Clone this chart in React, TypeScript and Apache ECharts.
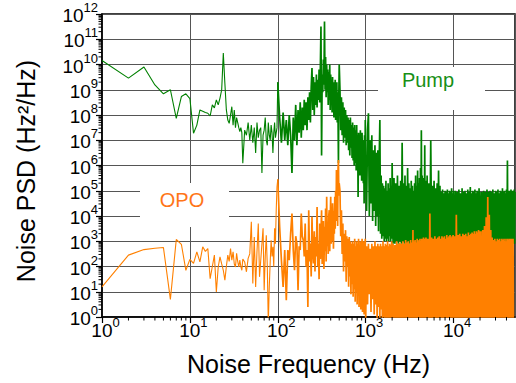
import React, { useEffect, useRef } from 'react';
import * as echarts from 'echarts';

// Frequency bins (Hz) per segment
const freqA = [1,2,3,4,5,6,7,8,9,10,11,12,13,14,15,16,17,18,19,20,21,22,23,24,25,26,27,28,29,30,31,32,33,34,35,36,37,38,39,40];
const freqB = [42,44,46,48,50,52,54,56,58,60,62,64,66,68,70,72,74,76,78,80,82,84,86,88,90,92,94,96,98,100];
const freqC = [105,110,115,120,125,130,135,140,145,150,155,160,165,170,175,180,185,190,195,200];
const freqD = [205,210,215,220,225,230,235,240,245,250,255,260,265,270,275,280,285,290,295,300,305,310,315,320,325,330,335,340,345,350,355,360,365,370,375,380,385,390,395,400,405,410,415,420,425,430,435,440,445,450,455,460,465,470,475,480,485,490,495,500];
const freqE = [510,520,530,540,550,560,570,580,590,600,610,620,630,640,650,660,670,680,690,700,710,720,730,740,750,760,770,780,790,800,810,820,830,840,850,860,870,880,890,900,910,920,930,940,950,960,970,980,990,1000];
const freqF = [1025,1050,1075,1100,1125,1150,1175,1200,1225,1250,1275,1300,1325,1350,1375,1400,1425,1450,1475,1500,1525,1550,1575,1600,1625,1650,1675,1700,1725,1750,1775,1800,1825,1850,1875,1900,1925,1950,1975,2000];
const freqG = [2050,2100,2150,2200,2250,2300,2350,2400,2450,2500,2550,2600,2650,2700,2750,2800,2850,2900,2950,3000,3050,3100,3150,3200,3250,3300,3350,3400,3450,3500,3550,3600,3650,3700,3750,3800,3850,3900,3950,4000,4050,4100,4150,4200,4250,4300,4350,4400,4450,4500,4550,4600,4650,4700,4750,4800,4850,4900,4950,5000];
const freqH = [5125,5250,5375,5500,5625,5750,5875,6000,6125,6250,6375,6500,6625,6750,6875,7000,7125,7250,7375,7500,7625,7750,7875,8000,8125,8250,8375,8500,8625,8750,8875,9000,9125,9250,9375,9500,9625,9750,9875,10000];
const freqI = [10250,10500,10750,11000,11250,11500,11750,12000,12250,12500,12750,13000,13250,13500,13750,14000,14250,14500,14750,15000,15250,15500,15750,16000,16250,16500,16750,17000,17250,17500,17750,18000,18250,18500,18750,19000,19250,19500,19750,20000];
const freqJ = [20500,21000,21500,22000,22500,23000,23500,24000,24500,25000,25500,26000,26500,27000,27500,28000,28500,29000,29500,30000,30500,31000,31500,32000,32500,33000,33500,34000,34500,35000,35500,36000,36500,37000,37500,38000,38500,39000,39500,40000,40500,41000,41500,42000,42500,43000,43500,44000,44500,45000,45500,46000,46500,47000,47500,48000,48500,49000,49500,50000];

// Pump noise PSD, log10(Hz^2/Hz)
const pumpA = [10.16,9.46,9.9,9.19,8.84,9.0,7.87,8.73,8.84,8.65,7.28,7.6,8.2,8.15,8.1,8.07,7.96,8.4,8.28,8.6,8.4,8.67,9.0,10.45,9.26,8.2,7.8,7.67,8.0,8.33,7.6,8.2,7.5,7.9,7.7,7.5,7.34,7.5,7.3,6.09];
const pumpB = [7.4,7.2,7.7,7.0,7.6,6.9,7.5,6.5,7.7,7.1,7.4,7.5,5.7,7.2,7.4,7.9,7.0,6.8,7.7,7.2,7.0,7.6,7.3,6.5,7.3,7.7,7.1,7.3,7.5,9.3];
const pumpC = [7.9,6.9,8.1,7.0,7.8,6.8,8.0,7.2,5.7,7.9,7.0,8.4,6.8,8.2,7.3,8.5,7.1,8.3,7.4,8.6];
const pumpD = [7.6,8.5,7.4,8.7,7.8,8.9,7.7,9.1,9.86,8.2,9.5,8.0,9.3,8.4,9.6,8.3,9.4,8.6,9.8,8.5,9.9,11.5,6.4,9.6,8.9,10.2,9.2,11.7,9.0,10.3,8.7,10.0,8.9,9.8,8.4,9.7,8.6,10.0,8.2,9.6,8.5,9.4,8.1,9.5,8.3,9.3,7.9,9.2,8.2,9.4,7.8,9.1,8.0,9.3,7.7,8.9,7.9,6.1,8.8,10.0];
const pumpE = [9.0,7.4,8.7,7.2,8.5,6.9,8.3,7.1,8.2,6.8,8.0,6.9,7.9,6.6,7.8,6.4,7.9,6.7,7.6,6.3,7.7,6.2,7.5,6.0,7.6,6.1,7.4,5.8,7.6,6.0,7.2,4.75,7.3,5.9,7.1,5.6,7.4,5.7,7.0,5.4,7.3,5.5,7.0,5.3,6.9,4.5,7.2,5.4,7.8,5.6];
const pumpF = [4.2,7.4,8.07,4.0,7.0,4.5,7.2,3.8,6.6,4.2,6.8,3.6,6.5,4.0,6.6,3.4,6.2,7.8,3.3,5.6,3.1,5.3,3.2,5.2,3.0,5.1,3.1,5.4,3.0,5.0,3.1,5.3,3.0,5.1,3.2,5.5,3.0,5.2,3.1,6.1];
const pumpG = [2.9,5.5,2.9,5.3,3.0,5.6,2.9,5.2,3.0,5.4,2.9,6.9,3.0,5.3,2.9,5.6,3.0,5.2,2.9,5.9,3.0,5.3,2.9,5.1,3.0,5.4,2.9,5.2,3.0,5.0,2.9,5.3,3.0,5.6,2.9,5.2,3.0,5.8,2.9,5.3,3.0,5.5,2.9,5.9,3.0,7.4,2.9,5.6,3.0,5.3,2.9,5.5,3.0,6.8,2.9,5.4,3.0,5.2,2.9,5.6];
const pumpH = [2.9,5.3,2.9,7.0,3.0,5.2,2.9,5.4,3.0,5.1,2.9,5.3,3.0,5.8,2.9,5.2,3.0,4.95,2.9,5.05,3.0,4.9,2.9,5.0,3.0,4.95,2.9,5.05,3.0,4.9,2.9,5.0,3.0,4.95,2.9,5.1,3.0,4.9,2.9,5.0];
const pumpI = [3.0,5.0,3.1,4.95,3.0,5.05,3.1,4.9,3.0,5.1,3.1,4.95,3.0,5.0,3.1,4.9,3.0,5.05,3.1,4.95,3.0,5.15,3.1,4.9,3.0,5.0,3.1,4.95,3.0,5.05,3.1,4.9,3.0,5.0,3.1,4.95,3.0,5.1,3.1,4.95];
const pumpJ = [3.1,4.95,3.1,5.0,3.2,4.95,3.3,5.05,3.4,4.95,3.2,5.0,3.0,4.95,2.9,5.05,2.9,4.9,2.9,5.0,2.9,4.95,2.9,5.05,2.9,4.9,2.9,5.0,2.9,4.95,2.9,5.1,2.9,4.95,2.9,5.0,2.9,4.9,2.9,5.05,2.9,6.2,2.9,4.95,2.9,5.0,2.9,4.9,2.9,5.05,2.9,4.95,2.9,5.0,2.9,4.95,2.9,5.05,2.9,4.95];

// OPO noise PSD, log10(Hz^2/Hz)
const opoA = [1.19,2.45,2.67,2.72,2.75,0.7,3.07,2.88,1.85,2.28,2.12,2.58,2.18,2.78,2.6,2.71,1.52,2.0,2.45,0.99,1.98,2.38,2.1,1.85,1.46,2.0,2.45,2.2,2.71,2.25,2.58,2.1,1.98,2.52,2.2,1.98,2.25,2.0,1.85,2.3];
const opoB = [2.18,1.79,2.32,2.5,3.77,1.33,3.17,1.19,2.6,3.7,1.59,2.25,2.9,3.51,1.06,2.4,3.24,2.0,-0.3,1.19,2.2,3.04,2.4,2.78,2.0,3.51,2.9,4.23,5.16,5.45];
const opoC = [3.57,2.25,1.19,2.65,0.66,2.65,2.25,3.3,4.1,2.65,1.85,3.2,2.91,1.06,2.8,2.65,4.1,3.2,3.04,2.4];
const opoD = [3.7,2.0,2.65,0.4,4.23,2.2,2.91,1.6,3.97,2.5,2.12,3.4,1.8,3.17,2.4,4.36,2.0,2.91,1.5,3.7,2.3,3.3,4.23,2.1,2.65,3.8,1.9,3.57,2.6,4.3,2.2,4.76,2.8,3.57,2.5,4.0,4.23,2.6,3.8,4.76,2.9,4.1,3.0,4.5,3.97,2.7,4.2,3.3,4.76,3.5,5.0,3.8,5.82,4.2,5.5,3.6,5.9,6.22,4.8,5.29];
const opoE = [5.0,3.2,4.23,2.5,3.7,1.8,3.3,2.2,3.44,1.4,3.2,2.0,3.1,1.2,3.17,1.6,3.0,0.9,2.9,1.3,3.0,0.8,2.9,1.1,3.1,0.6,2.8,1.0,3.0,0.5,2.9,0.9,3.1,0.4,2.8,0.7,3.0,0.3,2.9,0.6,3.1,0.2,2.8,0.5,3.0,0.1,2.9,0.4,3.1,-0.2];
const opoF = [2.8,0.5,2.9,0.9,2.7,0.2,2.9,0.7,2.8,0.1,3.0,0.5,2.8,-0.1,2.9,0.4,2.8,-0.2,2.9,0.3,2.8,-0.3,3.0,0.0,2.8,-0.3,2.9,-0.1,2.85,-0.3,3.0,-0.2,2.8,-0.3,2.9,-0.2,2.85,-0.3,3.0,-0.2];
const opoG = [2.9,-0.3,2.85,-0.2,3.0,-0.3,2.9,-0.2,2.95,-0.3,2.9,-0.2,3.0,-0.3,2.9,-0.2,3.05,-0.3,2.95,-0.2,3.0,-0.3,2.9,-0.2,3.05,-0.3,2.95,-0.2,3.45,-0.3,3.0,-0.2,3.05,-0.3,2.95,-0.2,3.1,-0.3,3.0,-0.2,3.05,-0.3,3.1,-0.2,3.0,-0.3,3.1,-0.2,3.05,-0.3,3.15,-0.2,3.1,-0.3,3.0,-0.2,3.15,-0.3,3.1,-0.2];
const opoH = [3.1,-0.3,4.1,-0.2,3.15,-0.3,3.1,-0.2,3.2,-0.3,3.1,-0.2,3.15,-0.3,3.2,-0.2,3.1,-0.3,3.2,-0.2,3.15,-0.3,3.2,-0.2,3.1,-0.3,3.25,-0.2,3.15,-0.3,3.2,-0.2,3.25,-0.3,3.15,-0.2,3.2,-0.3,3.25,-0.2];
const opoI = [3.2,-0.3,4.05,-0.2,3.25,-0.3,3.3,-0.2,3.2,-0.3,3.3,-0.2,3.25,-0.3,3.3,-0.2,3.2,-0.3,3.35,-0.2,3.25,-0.3,3.3,-0.2,3.35,-0.3,3.3,-0.2,3.4,-0.3,3.3,-0.2,3.4,-0.3,3.35,-0.2,3.45,-0.3,3.4,-0.2];
const opoJ = [3.4,-0.3,3.45,-0.2,3.6,-0.3,3.95,-0.2,4.75,-0.3,4.05,-0.2,3.45,-0.3,3.15,-0.2,3.05,-0.3,3.1,-0.2,3.0,-0.3,3.1,-0.2,3.05,-0.3,3.1,-0.2,3.0,-0.3,3.1,-0.2,3.05,-0.3,3.1,-0.2,3.0,-0.3,3.1,-0.2,3.0,-0.3,3.1,-0.2,3.05,-0.3,3.1,-0.2,3.0,-0.3,3.1,-0.2,3.05,-0.3,3.1,-0.2];

// Axis ticks (decades) and log minor multipliers
const xDecades = [0, 1, 2, 3, 4];
const yDecades = [0, 1, 2, 3, 4, 5, 6, 7, 8, 9, 10, 11, 12];
const minorMultipliers = [2, 3, 4, 5, 6, 7, 8, 9];
const X_MAX_HZ = 50000;
const DENSE_FROM_HZ = 100;

const freqSegs = [freqA, freqB, freqC, freqD, freqE, freqF, freqG, freqH, freqI, freqJ];
const pumpSegs = [pumpA, pumpB, pumpC, pumpD, pumpE, pumpF, pumpG, pumpH, pumpI, pumpJ];
const opoSegs = [opoA, opoB, opoC, opoD, opoE, opoF, opoG, opoH, opoI, opoJ];

function build(vals: number[][], fLo: number, fHi: number): number[][] {
  const out: number[][] = [];
  freqSegs.forEach((fs, s) => {
    const v = vals[s];
    const n = Math.min(fs.length, v.length);
    for (let i = 0; i < n; i++) {
      if (fs[i] >= fLo && fs[i] <= fHi) out.push([Math.log10(fs[i]), v[i]]);
    }
  });
  return out;
}

const FONT = '"Liberation Sans", Arial, Helvetica, sans-serif';
const GREEN = '#008000';
const ORANGE = '#ff8000';

export default function App() {
  const ref = useRef<HTMLDivElement>(null);
  useEffect(() => {
    if (!ref.current) return;
    const chart = echarts.init(ref.current, undefined, { renderer: 'svg' });
    const xMax = Math.log10(X_MAX_HZ);
    const minorData: number[][] = [];
    xDecades.forEach((d) => minorMultipliers.forEach((k) => {
      const v = d + Math.log10(k);
      if (v < xMax) minorData.push([v, 0, 0]);
    }));
    yDecades.forEach((d) => {
      if (d >= 12) return;
      minorMultipliers.forEach((k) => minorData.push([0, d + Math.log10(k), 1]));
    });
    const isInt = (v: number) => Math.abs(v - Math.round(v)) < 1e-6;
    const xFmt = (v: number) => (isInt(v) && xDecades.includes(Math.round(v)) ? `{b|10}{s|${Math.round(v)}}` : '');
    const yFmt = (v: number) => (isInt(v) && yDecades.includes(Math.round(v)) ? `{b|10}{s|${Math.round(v)}}` : '');
    const richBase = (padLeft: number) => ({
      b: { fontSize: 19, lineHeight: 22, verticalAlign: 'bottom', fontFamily: FONT, color: '#000', padding: [0, 0, 0, padLeft] },
      s: { fontSize: 13, lineHeight: 13, verticalAlign: 'bottom', fontFamily: FONT, color: '#000', padding: [0, 0, 11, 0] },
    });
    const lineSeries = (name: string, data: number[][], color: string, width: number) => ({
      name, type: 'line', data, showSymbol: false, symbol: 'none',
      lineStyle: { color, width }, itemStyle: { color }, clip: true, z: 2,
    });
    chart.setOption({
      animation: false,
      backgroundColor: '#fff',
      grid: { left: 102, right: 1, top: 14, bottom: 66, show: true, borderColor: '#000', borderWidth: 1.5, backgroundColor: 'transparent' },
      xAxis: {
        type: 'value', min: 0, max: xMax, interval: 1,
        name: 'Noise Frequency (Hz)', nameLocation: 'middle', nameGap: 34,
        nameTextStyle: { fontSize: 25, color: '#000', fontFamily: FONT },
        axisLine: { show: true, onZero: false, lineStyle: { color: '#000', width: 1.5 } },
        axisTick: { show: true, inside: false, length: 6, lineStyle: { color: '#000', width: 1.2 } },
        axisLabel: { formatter: xFmt, rich: richBase(7), margin: 1, showMaxLabel: false },
        splitLine: { show: true, lineStyle: { color: '#555', width: 1 } },
      },
      yAxis: {
        type: 'value', min: 0, max: 12, interval: 1,
        name: 'Noise PSD (Hz²/Hz)', nameLocation: 'middle', nameGap: 64,
        nameTextStyle: { fontSize: 25, color: '#000', fontFamily: FONT, padding: [0, 11, 0, 0] },
        axisLine: { show: true, onZero: false, lineStyle: { color: '#000', width: 1.5 } },
        axisTick: { show: true, inside: false, length: 6, lineStyle: { color: '#000', width: 1.2 } },
        axisLabel: { formatter: yFmt, rich: richBase(0), margin: 4 },
        splitLine: { show: true, lineStyle: { color: '#555', width: 1 } },
      },
      graphic: [
        { type: 'rect', shape: { x: 378, y: 67, width: 107, height: 43 }, style: { fill: '#fff' }, z: 1 },
        { type: 'rect', shape: { x: 140, y: 183, width: 89, height: 44 }, style: { fill: '#fff' }, z: 1 },
        { type: 'text', x: 428, y: 80, z: 3, style: { text: 'Pump', fill: '#178f17', fontSize: 20, fontFamily: FONT, align: 'center', verticalAlign: 'middle' } },
        { type: 'text', x: 182, y: 200, z: 3, style: { text: 'OPO', fill: '#ff7518', fontSize: 20, fontFamily: FONT, align: 'center', verticalAlign: 'middle' } },
      ],
      series: [
        lineSeries('Pump', build(pumpSegs, 0, DENSE_FROM_HZ), GREEN, 1.1),
        lineSeries('Pump', build(pumpSegs, DENSE_FROM_HZ, X_MAX_HZ), GREEN, 1.7),
        lineSeries('OPO', build(opoSegs, 0, DENSE_FROM_HZ), ORANGE, 1.1),
        lineSeries('OPO', build(opoSegs, DENSE_FROM_HZ, X_MAX_HZ), ORANGE, 1.7),
        {
          name: 'minorTicks', type: 'custom', data: minorData, clip: false, silent: true, z: 4,
          encode: { x: 0, y: 1 },
          renderItem: (params: any, api: any) => {
            const t = api.value(2);
            const p = api.coord([api.value(0), api.value(1)]);
            const len = 3.5;
            const shape = t === 0
              ? { x1: p[0], y1: p[1], x2: p[0], y2: p[1] + len }
              : { x1: p[0] - len, y1: p[1], x2: p[0], y2: p[1] };
            return { type: 'line', shape, style: { stroke: '#000', lineWidth: 1 } };
          },
        },
      ],
    });
    return () => chart.dispose();
  }, []);
  return <div ref={ref} style={{ position: 'absolute', left: 0, top: 0, width: 516, height: 383, background: '#fff' }} />;
}
